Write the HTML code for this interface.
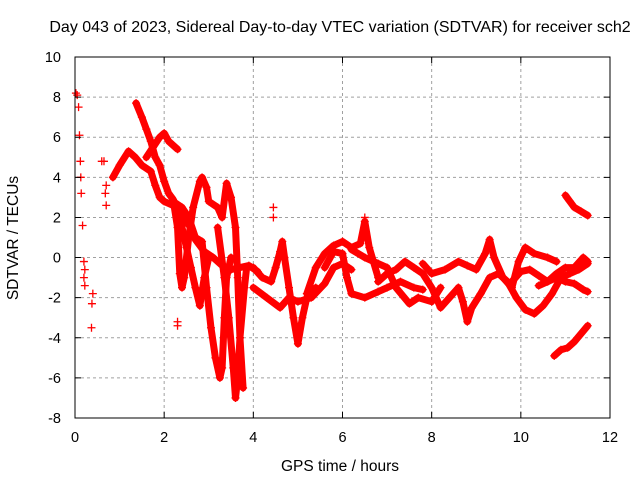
<!DOCTYPE html>
<html><head><meta charset="utf-8"><style>
body{margin:0;background:#fff}
svg{display:block;font-family:"Liberation Sans",sans-serif}
</style></head><body>
<svg id="chart" width="640" height="480">
<rect width="640" height="480" fill="#fff"/>
<text x="340" y="32" text-anchor="middle" font-size="16">Day 043 of 2023, Sidereal Day-to-day VTEC variation (SDTVAR) for receiver sch2</text>
<text x="340" y="471" text-anchor="middle" font-size="15.5">GPS time / hours</text>
<text transform="translate(18,238) rotate(-90)" text-anchor="middle" font-size="15.5">SDTVAR / TECUs</text>
<g id="grid"></g><g id="marks"></g><g id="axes"></g>
</svg>
<script>
const xTicks=[0,2,4,6,8,10,12];
const yTicks=[-8,-6,-4,-2,0,2,4,6,8,10];
const scatterEarly=[[0.02,8.2],[0.05,8.1],[0.08,7.5],[0.1,6.1],[0.12,4.8],[0.13,4.0],[0.14,3.2],[0.17,1.6],[0.2,-0.2],[0.22,-0.6],[0.2,-1.0],[0.22,-1.4],[0.4,-1.8],[0.38,-2.3],[0.37,-3.5],[0.6,4.8],[0.65,4.8],[0.7,3.6],[0.68,3.2],[0.7,2.6],[2.3,-3.4],[2.3,-3.2],[4.45,2.5],[4.45,2.0],[6.5,2.0]];
const tracks=[
[[0.85,4.0],[1.0,4.6],[1.2,5.3],[1.35,5.0],[1.5,4.6],[1.7,4.3],[1.8,3.6],[1.9,3.0],[2.0,2.8],[2.2,2.6],[2.4,2.0],[2.6,1.5],[2.7,0.9],[2.9,0.3],[3.1,0.0],[3.3,-0.4],[3.5,-0.6],[3.7,-0.5],[3.9,-0.4],[4.1,-0.7]],
[[1.37,7.7],[1.5,7.0],[1.6,6.4],[1.7,5.8],[1.8,5.0],[1.9,4.6],[2.0,3.8],[2.1,3.2],[2.2,2.9],[2.3,1.5],[2.35,-0.8],[2.4,-1.5],[2.45,-1.0],[2.55,1.0],[2.65,2.5],[2.8,3.8],[2.85,4.0],[2.95,3.5],[3.0,2.8],[3.2,2.5],[3.3,2.0],[3.4,3.7],[3.5,3.0],[3.6,1.5],[3.65,-1.0],[3.7,-4.0],[3.77,-6.5]],
[[1.6,5.0],[1.75,5.5],[1.9,6.0],[2.0,6.2],[2.1,5.8],[2.2,5.6],[2.3,5.4]],
[[2.2,2.8],[2.4,2.5],[2.55,2.0],[2.7,1.0],[2.85,0.8],[2.95,-1.5],[3.05,-3.5],[3.15,-5.0],[3.25,-6.0],[3.3,-5.5],[3.35,-3.0],[3.4,-1.0],[3.5,0.0]],
[[3.2,1.5],[3.35,-1.0],[3.45,-3.0],[3.55,-5.5],[3.6,-7.0],[3.65,-6.0],[3.7,-4.0],[3.8,-1.5],[3.85,-0.5]],
[[2.35,2.0],[2.5,0.5],[2.6,-0.5],[2.7,-1.5],[2.8,-2.4],[2.9,-1.0],[3.0,0.0]],
[[4.0,-0.5],[4.2,-1.0],[4.4,-1.2],[4.5,-0.5],[4.6,0.3],[4.65,0.8],[4.7,0.0],[4.8,-1.5],[4.9,-3.0],[5.0,-4.3],[5.1,-3.0],[5.2,-2.0],[5.4,-1.5]],
[[4.0,-1.5],[4.3,-2.0],[4.6,-2.5],[4.8,-2.0],[5.0,-2.2],[5.3,-2.0],[5.6,-1.3],[5.8,-0.5],[6.0,-0.3],[6.2,-0.6]],
[[5.2,-1.8],[5.4,-0.5],[5.6,0.2],[5.8,0.6],[6.0,0.8],[6.2,0.5],[6.4,0.7],[6.5,1.8],[6.6,0.5],[6.8,-1.0]],
[[5.6,-0.5],[5.8,0.3],[6.0,0.2],[6.1,-1.0],[6.2,-1.8],[6.5,-2.0],[6.8,-1.7],[7.0,-1.5],[7.3,-1.2],[7.6,-1.5],[7.8,-1.6]],
[[6.2,0.4],[6.5,0.0],[6.8,-0.3],[7.0,-0.5],[7.2,-1.5],[7.5,-2.3],[7.7,-2.0],[8.0,-2.2],[8.2,-1.5]],
[[6.8,-1.2],[7.0,-0.8],[7.2,-0.6],[7.4,-0.2],[7.6,-0.5],[7.8,-0.8],[8.0,-1.5],[8.2,-2.5],[8.4,-2.0],[8.6,-1.5]],
[[7.8,-0.3],[8.0,-0.8],[8.3,-0.6],[8.6,-0.2],[8.8,-0.4],[9.0,-0.6],[9.2,0.2],[9.3,0.9],[9.4,0.0],[9.6,-1.0],[9.8,-1.5],[9.95,-0.2],[10.1,0.5],[10.3,0.2],[10.6,0.0],[10.8,-0.2]],
[[8.6,-1.5],[8.7,-2.2],[8.8,-3.2],[8.9,-2.5],[9.1,-1.8],[9.3,-1.0],[9.5,-0.8],[9.7,-1.2],[9.9,-2.0],[10.1,-2.6],[10.3,-2.8],[10.5,-2.4],[10.7,-1.8],[10.9,-1.0],[11.1,-0.8],[11.3,-0.6],[11.5,-0.3]],
[[9.8,-1.2],[10.0,-0.7],[10.2,-0.6],[10.4,-0.9],[10.6,-1.2],[10.8,-0.8],[11.0,-0.5],[11.2,-0.5],[11.4,0.0],[11.5,-0.2]],
[[10.4,-1.4],[10.6,-1.2],[10.8,-1.0],[11.0,-1.2],[11.2,-1.3],[11.4,-1.6],[11.5,-1.7]],
[[11.0,3.1],[11.1,2.8],[11.2,2.5],[11.35,2.3],[11.5,2.1]],
[[10.75,-4.9],[10.9,-4.6],[11.05,-4.5],[11.2,-4.2],[11.35,-3.8],[11.5,-3.4]]
];
const L=75,R=610,T=57,B=418;
const sx=v=>L+(v-0)/(12-0)*(R-L);
const sy=v=>B-(v+8)/(18)*(B-T);
const NS='http://www.w3.org/2000/svg';
function mk(tag,attrs,parent){const e=document.createElementNS(NS,tag);for(const k in attrs)e.setAttribute(k,attrs[k]);parent.appendChild(e);return e;}
const grid=document.getElementById('grid'),marks=document.getElementById('marks'),axes=document.getElementById('axes');
xTicks.forEach(t=>{
  if(t>0&&t<12){const g=mk('line',{x1:sx(t),x2:sx(t),y1:T,y2:B,stroke:'#a0a0a0','stroke-dasharray':'3,3'},grid);
  
  }
  const tk=mk('path',{d:`M${sx(t)},${B}v-6M${sx(t)},${T}v6`,stroke:'#000'},axes);
  
  
  const lb=mk('text',{x:sx(t),y:B+24,'text-anchor':'middle','font-size':14.5},axes);lb.textContent=t;
  
  
});
yTicks.forEach(t=>{
  if(t>-8&&t<10){const g=mk('line',{x1:L,x2:R,y1:sy(t),y2:sy(t),stroke:'#a0a0a0','stroke-dasharray':'3,3'},grid);
  
  }
  const tk=mk('path',{d:`M${L},${sy(t)}h6M${R},${sy(t)}h-6`,stroke:'#000'},axes);
  
  
  const lb=mk('text',{x:L-14,y:sy(t)+5,'text-anchor':'end','font-size':14.5},axes);lb.textContent=t;
  
  
});
const frame=mk('rect',{x:L,y:T,width:R-L,height:B-T,fill:'none',stroke:'#000'},axes);


function plus(x,y,parent){const p=mk('path',{d:`M${x-4},${y}h8M${x},${y-4}v8`,stroke:'#f00','stroke-width':1.3},parent);
  
  }
tracks.forEach((tr,i)=>{
  const g=mk('g',{},marks);
  
  
  const pl=mk('polyline',{points:tr.map(p=>sx(p[0])+','+sy(p[1])).join(' '),fill:'none',stroke:'#f00','stroke-width':7,'stroke-linejoin':'round','stroke-linecap':'round'},g);
  
  
  tr.forEach(p=>plus(sx(p[0]),sy(p[1]),g));
});
const sg=mk('g',{},marks);


scatterEarly.forEach(p=>plus(sx(p[0]),sy(p[1]),sg));
</script>
</body></html>
